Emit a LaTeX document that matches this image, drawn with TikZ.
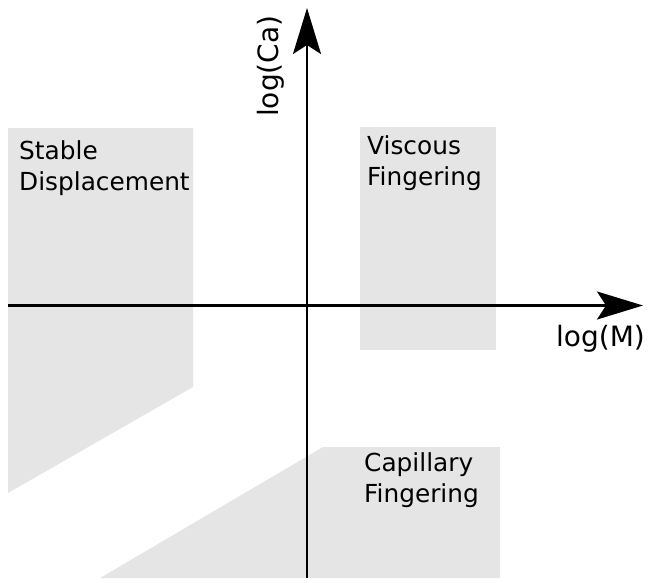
\documentclass[tikz,border=0pt]{standalone}
\usepackage{fontspec}
\setmainfont{DejaVu Sans}
\usetikzlibrary{arrows.meta}
\definecolor{regiongray}{HTML}{E5E5E5}
\tikzset{
  region/.style={fill=regiongray, draw=none},
  axis/.style={line width=2.3pt, -{Stealth[length=46pt, width=28pt, inset=9pt]}},
  lbl/.style={font=\fontsize{24.8}{31}\selectfont, inner sep=0pt, align=left},
  axlbl/.style={font=\fontsize{28}{34}\selectfont, inner sep=0pt},
}
\begin{document}
\begin{tikzpicture}[x=1pt,y=-1pt]
\useasboundingbox (0,0) rectangle (651,582);
% regions
\fill[region] (8,128) -- (193,128) -- (193,387) -- (8,493) -- cycle;
\fill[region] (360,127) rectangle (496,350);
\fill[region] (100,578) -- (323,447) -- (500,447) -- (500,578) -- cycle;
% axes
\coordinate (xl) at (8,305.5);
\coordinate (xr) at (643,305.5);
\coordinate (yb) at (307,578);
\coordinate (yt) at (307,8);
\draw[axis] (xl) -- (xr);
\draw[axis] (yb) -- (yt);
% labels
\node[lbl, anchor=base west] (stable) at (19,190) {Stable\\Displacement};
\node[lbl, anchor=base west] (viscous) at (367,185) {Viscous\\Fingering};
\node[lbl, anchor=base west] (cap) at (364,502) {Capillary\\Fingering};
\node[axlbl, anchor=base west] (logm) at (556,346) {log(M)};
\node[axlbl, anchor=base west, rotate=90] (logca) at (278,117) {log(Ca)};
\end{tikzpicture}
\end{document}
